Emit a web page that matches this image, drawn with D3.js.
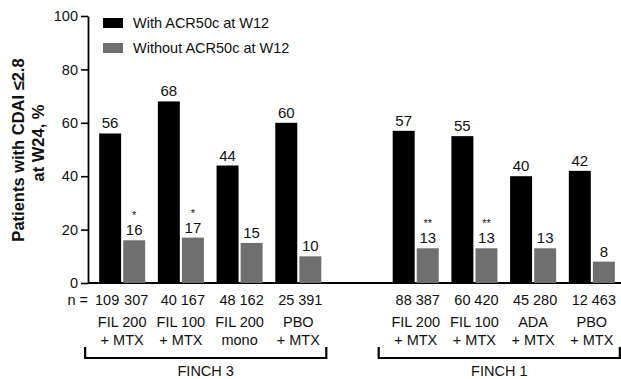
<!DOCTYPE html>
<html>
<head>
<meta charset="utf-8">
<script src="https://cdn.jsdelivr.net/npm/d3@7"></script>
<style>
  body { margin: 0; background: #fff; }
  svg { display: block; font-family: "Liberation Sans", Arial, sans-serif; }
</style>
</head>
<body>
<svg id="chart" width="621" height="379"></svg>
<script>
// data
const groups = ["F3 FIL 200", "F3 FIL 100", "F3 FIL 200 mono", "F3 PBO", "gap", "F1 FIL 200", "F1 FIL 100", "F1 ADA", "F1 PBO"];
const groupLines = [["FIL 200", "+ MTX"], ["FIL 100", "+ MTX"], ["FIL 200", "mono"], ["PBO", "+ MTX"], null,
  ["FIL 200", "+ MTX"], ["FIL 100", "+ MTX"], ["ADA", "+ MTX"], ["PBO", "+ MTX"]];
const withAcr = [56, 68, 44, 60, null, 57, 55, 40, 42];
const withoutAcr = [16, 17, 15, 10, null, 13, 13, 13, 8];
const nWith = [109, 40, 48, 25, null, 88, 60, 45, 12];
const nWithout = [307, 167, 162, 391, null, 387, 420, 280, 463];
const stars = ["*", "*", "", "", null, "**", "**", "", ""];
const studies = [{ name: "FINCH 3", from: 0, to: 3 }, { name: "FINCH 1", from: 5, to: 8 }];
const yTicks = [0, 20, 40, 60, 80, 100];
const seriesNames = ["With ACR50c at W12", "Without ACR50c at W12"];
const colors = ["#000000", "#6f6f6f"];

const svg = d3.select("#chart");
const margin = { left: 88, top: 16, bottom: 283 };

const x = d3.scaleBand().domain(groups).range([88, 626]).paddingInner(0.216).paddingOuter(0.19);
const sub = d3.scaleBand().domain([0, 1]).range([0, x.bandwidth()]).paddingInner(0.087);
const y = d3.scaleLinear().domain([0, 100]).range([margin.bottom, margin.top]);

// y axis
const gY = svg.append("g").attr("transform", "translate(" + margin.left + ",0)")
  .call(d3.axisLeft(y).tickValues(yTicks).tickSize(7).tickSizeOuter(0).tickPadding(3));
gY.select(".domain").attr("stroke", "#000").attr("stroke-width", 1.8);
gY.selectAll(".tick line").attr("stroke", "#000").attr("stroke-width", 1.6);
gY.selectAll(".tick text").attr("font-size", 14.5).attr("fill", "#111").attr("font-family", null);

// x baseline
svg.append("line").attr("x1", margin.left).attr("x2", 621)
  .attr("y1", y(0)).attr("y2", y(0)).attr("stroke", "#000").attr("stroke-width", 1.8);

// y title
svg.append("text").attr("transform", "translate(24,150) rotate(-90)")
  .attr("text-anchor", "middle").attr("font-size", 16.5).attr("font-weight", "bold").attr("fill", "#111")
  .text("Patients with CDAI \u22642.8");
svg.append("text").attr("transform", "translate(44,143) rotate(-90)")
  .attr("text-anchor", "middle").attr("font-size", 16.5).attr("font-weight", "bold").attr("fill", "#111")
  .text("at W24, %");

// bars
const rows = groups.map((g, i) => ({ g, i })).filter((d) => withAcr[d.i] !== null);
const gBars = svg.append("g");
[withAcr, withoutAcr].forEach((vals, s) => {
  gBars.selectAll(".b" + s).data(rows).join("rect")
    .attr("x", (d) => x(d.g) + sub(s))
    .attr("width", sub.bandwidth())
    .attr("y", (d) => y(vals[d.i]))
    .attr("height", (d) => y(0) - y(vals[d.i]))
    .attr("fill", colors[s]);

  const lab = gBars.selectAll(".l" + s).data(rows).join("text")
    .attr("y", (d) => y(vals[d.i]) - 5)
    .attr("text-anchor", "middle").attr("font-size", 15).attr("fill", "#111");
  const cx = (d) => x(d.g) + sub(s) + sub.bandwidth() / 2;
  // significance stars sit on the line above the value
  if (s === 1) {
    lab.filter((d) => stars[d.i]).append("tspan")
      .attr("x", cx).attr("dy", -16).attr("font-size", 11).text((d) => stars[d.i]);
  }
  lab.append("tspan").attr("x", cx)
    .attr("dy", (d) => (s === 1 && stars[d.i] ? 16 : 0))
    .text((d) => vals[d.i]);
});

// n row (pairs of 3-digit numbers get nudged apart)
svg.append("text").attr("x", 88).attr("y", 305).attr("text-anchor", "end")
  .attr("font-size", 14.5).attr("fill", "#111").text("n =");
[nWith, nWithout].forEach((vals, s) => {
  svg.append("g").selectAll("text").data(rows).join("text")
    .attr("x", (d) => x(d.g) + sub(s) + sub.bandwidth() / 2)
    .attr("dx", (d) => (nWith[d.i] >= 100 ? (s === 0 ? -3 : 2) : 0))
    .attr("y", 305).attr("text-anchor", "middle").attr("font-size", 14.5).attr("fill", "#111")
    .text((d) => vals[d.i]);
});

// category labels
const gCat = svg.append("g");
[0, 1].forEach((k) => {
  gCat.selectAll(".c" + k).data(rows).join("text")
    .attr("x", (d) => x(d.g) + x.bandwidth() / 2)
    .attr("y", 327 + k * 18).attr("text-anchor", "middle").attr("font-size", 14.5).attr("fill", "#111")
    .text((d) => groupLines[d.i][k]);
});

// study brackets
studies.forEach((st) => {
  const x1 = x(groups[st.from]) - 14, x2 = x(groups[st.to]) + x.bandwidth() + 5;
  svg.append("path")
    .attr("d", "M" + x1 + ",347V358H" + x2 + "V347")
    .attr("fill", "none").attr("stroke", "#000").attr("stroke-width", 2.2);
  svg.append("text").attr("x", (x1 + x2) / 2).attr("y", 376).attr("text-anchor", "middle")
    .attr("font-size", 14.5).attr("fill", "#111").text(st.name);
});

// legend
const legend = svg.append("g").selectAll("g").data(seriesNames).join("g")
  .attr("transform", (d, i) => "translate(103," + (18 + i * 25) + ")");
legend.append("rect").attr("width", 20).attr("height", 10).attr("fill", (d, i) => colors[i]);
legend.append("text").attr("x", 30).attr("y", 10).attr("font-size", 14.5).attr("fill", "#111").text((d) => d);
</script>
</body>
</html>
